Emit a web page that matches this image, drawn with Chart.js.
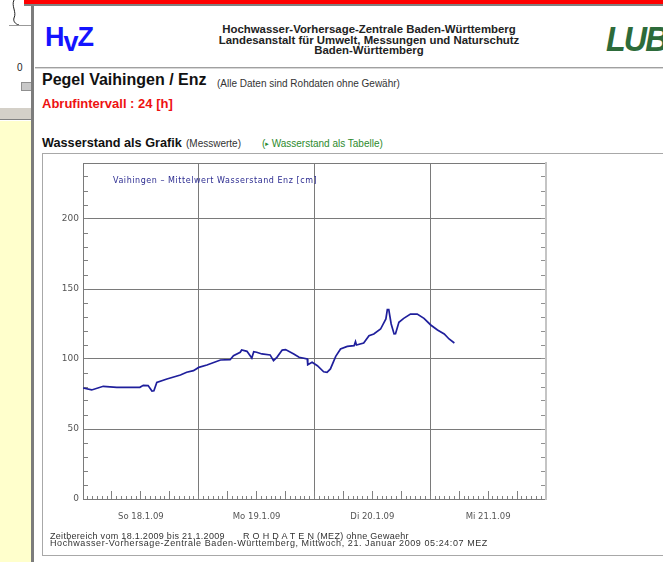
<!DOCTYPE html>
<html>
<head>
<meta charset="utf-8">
<script src="https://cdn.jsdelivr.net/npm/chart.js@4/dist/chart.umd.min.js"></script>
<style>
  body { margin: 0; width: 663px; height: 562px; overflow: hidden; background: #fff; position: relative;
         font-family: "Liberation Sans", Arial, sans-serif; color: #222; }
  .a { position: absolute; white-space: nowrap; }
</style>
</head>
<body>

<!-- left side frame -->
<svg class="a" style="left:0;top:0" width="34" height="30">
  <path d="M14,0 C11,6 17,12 14,18 C13,21 15,24 19,25" fill="none" stroke="#222" stroke-width="1"/>
  <line x1="9" y1="25.5" x2="31" y2="25.5" stroke="#999" stroke-width="1"/>
</svg>
<div class="a" style="left:17px;top:62px;font-size:10px;">0</div>
<div class="a" style="left:21px;top:82px;width:11px;height:7px;background:#c8c8c8;border:1px solid #909090;"></div>
<div class="a" style="left:0;top:107px;width:31px;height:11px;background:#d4d0c8;border-top:1px solid #fff;border-bottom:1px solid #808080;"></div>
<div class="a" style="left:0;top:121px;width:31px;height:441px;background:#ffffcc;"></div>
<div class="a" style="left:31px;top:4px;width:3px;height:558px;background:#7c7c7c;"></div>
<div class="a" style="left:24px;top:0;width:639px;height:4px;background:#ff0000;"></div>
<div class="a" style="left:24px;top:4px;width:639px;height:2px;background:#808080;"></div>

<!-- header -->
<div class="a" style="left:45px;top:22px;font-size:27px;font-weight:bold;color:#1414ff;letter-spacing:-1px;">H<span style="position:relative;top:5px;">v</span>Z</div>
<div class="a" style="left:210px;top:24px;width:318px;text-align:center;font-size:11.4px;font-weight:bold;line-height:10.6px;color:#222;">
  Hochwasser-Vorhersage-Zentrale Baden-Württemberg<br>Landesanstalt für Umwelt, Messungen und Naturschutz<br>Baden-Württemberg
</div>
<div class="a" style="left:606px;top:19px;font-size:35px;font-weight:bold;font-style:italic;color:#2d6b3a;transform:scaleX(0.92);transform-origin:left top;letter-spacing:-2px;">LUB</div>
<div class="a" style="left:35px;top:67px;width:628px;height:1px;background:#a0a0a0;"></div>
<div class="a" style="left:35px;top:68px;width:628px;height:1px;background:#d8d8d8;"></div>

<div class="a" style="left:42px;top:71px;font-size:16px;font-weight:bold;color:#111;">Pegel Vaihingen / Enz</div>
<div class="a" style="left:217px;top:78px;font-size:10px;color:#333;">(Alle Daten sind Rohdaten ohne Gewähr)</div>
<div class="a" style="left:42px;top:96px;font-size:13px;font-weight:bold;color:#ee1111;">Abrufintervall : 24 [h]</div>

<div class="a" style="left:42px;top:136px;font-size:12.7px;font-weight:bold;color:#111;">Wasserstand als Grafik</div>
<div class="a" style="left:186px;top:138px;font-size:10px;color:#333;">(Messwerte)</div>
<div class="a" style="left:262px;top:138px;font-size:10px;color:#2d8a2d;">(<span style="font-family:'DejaVu Sans';font-size:7px;position:relative;top:-1px;">▸</span> Wasserstand als Tabelle)</div>

<!-- chart image frame -->
<div class="a" style="left:42px;top:153px;width:700px;height:401px;border:1px solid #a8a8a8;"></div>
<canvas id="pegel" class="a" style="left:43px;top:154px;" width="620" height="401"></canvas>

<div class="a" style="left:113px;top:176px;font-family:'DejaVu Sans';font-size:8px;color:#2b2b90;letter-spacing:0.55px;">Vaihingen – Mittelwert Wasserstand Enz [cm]</div>
<div class="a" style="left:50px;top:533px;font-size:9px;line-height:7px;color:#333;letter-spacing:0.3px;">Zeitbereich vom 18.1.2009 bis 21.1.2009</div>
<div class="a" style="left:243px;top:533px;font-size:9px;line-height:7px;color:#333;letter-spacing:0.3px;">R O H D A T E N (MEZ) ohne Gewaehr</div>
<div class="a" style="left:50px;top:540px;font-size:9px;line-height:7px;color:#333;letter-spacing:0.57px;">Hochwasser-Vorhersage-Zentrale Baden-Württemberg, Mittwoch, 21. Januar 2009 05:24:07 MEZ</div>

<script>
// hours since 18.1.2009 00:00 and water level [cm]
const hours = [0, 1.8, 4.2, 7, 11.8, 12.5, 13.5, 14.3, 14.7, 15.3,
  17.4, 20.2, 21.5, 22.9, 24, 25.7, 28.5, 30.5, 31.2, 32.6,
  32.9, 34, 35, 35.4, 36, 37.1, 38.8, 39.5, 40.2, 41.3,
  42, 43.7, 44.8, 46.5, 46.6, 47.5, 48.6, 49.9, 50.6, 51.3,
  52.4, 53.4, 54.8, 56.2, 56.5, 56.7, 58.2, 59.3, 60.3, 61.7,
  62.8, 63.1, 63.4, 63.9, 64.5, 64.8, 65.5, 66.5, 67.9, 69.3,
  70.7, 72.1, 73.5, 74.9, 75.9, 77]
const level = [79.3, 77.9, 80.5, 79.8, 79.8, 81.2, 81, 77.1, 77.3, 83.3,
  85.7, 88.6, 90.5, 91.7, 94, 95.7, 99.3, 99.5, 102.4, 104.8,
  106.4, 105.5, 100.7, 105.2, 104.8, 103.6, 102.9, 98.8, 101.2, 106.4,
  106.7, 103.6, 101.2, 100, 95.9, 97.6, 95.2, 90.9, 90.5, 92.9,
  101.9, 107.1, 109, 109.5, 112.4, 110, 111.4, 116.6, 117.9, 121.4,
  128.6, 135.2, 135.2, 125, 117.9, 118, 126.2, 129, 132.1, 132.1,
  129, 124.3, 120.7, 117.9, 114.3, 111.4]
const dayTicks = [12, 36, 60, 84]
const dayLabels = ['So 18.1.09', 'Mo 19.1.09', 'Di 20.1.09', 'Mi 21.1.09']

const none = 'rgba(0,0,0,0)'

// fixed axis boxes, no extra label padding
const fixH = h => s => { s.height = h; s.paddingLeft = 0; s.paddingRight = 0 }
const fixW = w => s => { s.width = w; s.paddingTop = 0; s.paddingBottom = 0 }

const config = {
  type: 'line',
  data: {
    datasets: [{
      data: hours.map((h, i) => ({ x: h, y: level[i] })),
      borderColor: '#1f1f9c',
      borderWidth: 1.7,
      pointRadius: 0,
      tension: 0,
    }],
  },
  options: {
    responsive: false,
    animation: false,
    devicePixelRatio: 1,
    layout: { padding: { left: 0, right: 117, top: 9, bottom: 24 } },
    plugins: { legend: { display: false }, tooltip: { enabled: false } },
    scales: {
      x: {
        type: 'linear', position: 'bottom', weight: 1, min: 0, max: 96,
        ticks: {
          stepSize: 1, autoSkip: false, maxRotation: 0, maxTicksLimit: 200, padding: 16,
          font: { family: 'DejaVu Sans', size: 8.5 }, color: '#555',
          callback: v => { const i = dayTicks.indexOf(v); return i < 0 ? '' : dayLabels[i] },
        },
        grid: {
          color: c => (c.tick && c.tick.value % 24 === 0 && c.tick.value > 0 && c.tick.value < 96) ? '#7a7a7a' : none,
          tickColor: '#808080', tickLength: -3,
        },
        border: { color: '#7a7a7a' },
        afterFit: fixH(32),
      },
      x6: {
        type: 'linear', position: 'bottom', weight: 0, min: 0, max: 96,
        ticks: { stepSize: 6, display: false, autoSkip: false },
        grid: { drawOnChartArea: false, tickColor: '#808080', tickLength: -8 },
        border: { display: false },
        afterFit: fixH(0),
      },
      xt: {
        type: 'linear', position: 'top', min: 0, max: 96,
        ticks: { display: false },
        grid: { drawOnChartArea: false, drawTicks: false },
        border: { color: '#7a7a7a' },
        afterFit: fixH(0),
      },
      y: {
        position: 'left', min: 0, max: 240,
        ticks: {
          stepSize: 10, autoSkip: false, padding: 9, font: { family: 'DejaVu Sans', size: 9 }, color: '#555',
          callback: v => v % 50 === 0 ? v : '',
        },
        grid: {
          color: c => (c.tick && c.tick.value % 50 === 0) ? '#7a7a7a' : none,
          tickColor: '#808080', tickLength: -5,
        },
        border: { color: '#7a7a7a' },
        afterFit: fixW(40),
      },
      yr: {
        position: 'right', min: 0, max: 240,
        ticks: { stepSize: 10, display: false, autoSkip: false },
        grid: { drawOnChartArea: false, tickColor: '#909090', tickLength: -5 },
        border: { color: '#c4c4c4', width: 2 },
        afterFit: fixW(0),
      },
    },
  },
}

const pegelCtx = document.getElementById('pegel')
window.pegelChart = new Chart(pegelCtx, config)
</script>
</body>
</html>
